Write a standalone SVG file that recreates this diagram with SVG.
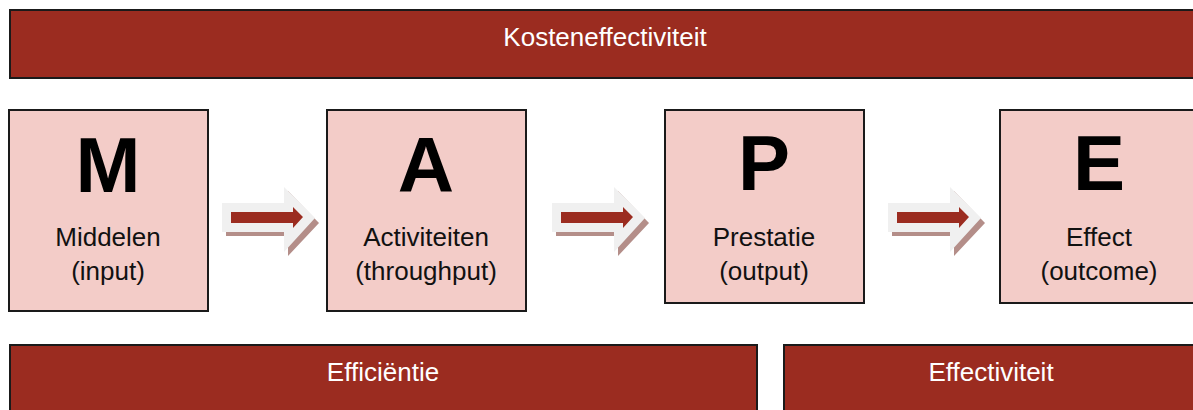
<svg xmlns="http://www.w3.org/2000/svg" width="1193" height="410" viewBox="0 0 1193 410">
<defs>
<style>
.bar{fill:#9b2c20;stroke:#1a1a1a;stroke-width:2}
.box{fill:#f3ccc8;stroke:#1a1a1a;stroke-width:2}
.bt{font-family:"Liberation Sans",Arial,sans-serif;font-size:26px;fill:#ffffff;text-anchor:middle}
.lt{font-family:"Liberation Sans",Arial,sans-serif;font-size:26px;fill:#111111;text-anchor:middle}
.big{font-family:"Liberation Sans",Arial,sans-serif;font-size:78px;font-weight:bold;fill:#000000;text-anchor:middle}
.ash{fill:#b48e89}
.agr{fill:#f0f0f0}
.ard{fill:#9b2c20}
</style>
<g id="arrow">
<path class="ash" d="M4,20 H66 V4 L97,36 L66,69 V49 H4 Z"/>
<path class="agr" d="M0,16 H62 V0 L93,31 L62,65 V45 H0 Z"/>
<path class="ard" d="M9,25 H71 V20 L81,30 L71,41 V36 H9 Z"/>
</g>
</defs>
<g id="bar-kosteneffectiviteit">
<rect class="bar" x="10" y="10" width="1195" height="68"/>
<text class="bt" x="605" y="46">Kosteneffectiviteit</text>
</g>
<g id="node-M">
<rect class="box" x="9" y="110" width="199" height="201"/>
<text class="big" x="108" y="192">M</text>
<text class="lt" x="108" y="246">Middelen</text>
<text class="lt" x="108" y="280">(input)</text>
</g>
<g id="node-A">
<rect class="box" x="327" y="110" width="199" height="201"/>
<text class="big" x="426" y="192">A</text>
<text class="lt" x="426" y="246">Activiteiten</text>
<text class="lt" x="426" y="280">(throughput)</text>
</g>
<g id="node-P">
<rect class="box" x="665" y="110" width="199" height="193"/>
<text class="big" x="764" y="190">P</text>
<text class="lt" x="764" y="246">Prestatie</text>
<text class="lt" x="764" y="280">(output)</text>
</g>
<g id="node-E">
<rect class="box" x="1000" y="110" width="205" height="193"/>
<text class="big" x="1099" y="190">E</text>
<text class="lt" x="1099" y="246">Effect</text>
<text class="lt" x="1099" y="280">(outcome)</text>
</g>
<g id="connectors">
<use href="#arrow" x="222" y="187"/>
<use href="#arrow" x="552" y="187"/>
<use href="#arrow" x="888" y="187"/>
</g>
<g id="bar-efficientie">
<rect class="bar" x="10" y="345" width="747" height="80"/>
<text class="bt" x="383" y="381">Efficiëntie</text>
</g>
<g id="bar-effectiviteit">
<rect class="bar" x="784" y="345" width="420" height="80"/>
<text class="bt" x="991" y="381">Effectiviteit</text>
</g>
</svg>
